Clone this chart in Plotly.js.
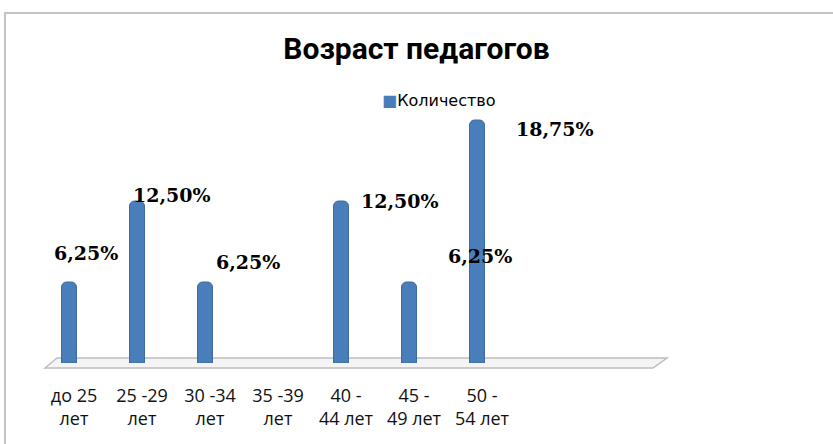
<!DOCTYPE html>
<html>
<head>
<meta charset="utf-8">
<script src="https://cdn.plot.ly/plotly-3.0.1.min.js"></script>
<style>html,body{margin:0;padding:0;background:#fff;}#chart{width:833px;height:444px;}</style>
</head>
<body>
<div id="chart"></div>
<script>
// ---- data ----
const categories = ["до 25<br>лет", "25 -29<br>лет", "30 -34<br>лет", "35 -39<br>лет", "40 -<br>44 лет", "45 -<br>49 лет", "50 -<br>54 лет", " ", "  "];
const counts = [1, 2, 1, 0, 2, 1, 3, null, null];
const percentLabels = ["6,25%", "12,50%", "6,25%", "", "12,50%", "6,25%", "18,75%", "", ""];
const seriesName = "Количество";
const chartTitle = "Возраст педагогов";

// ---- label placement (styling, pixel shifts) ----
const labelShiftX = [17, 35, 43, 0, 59, 71, 78, 0, 0];
const labelShiftY = [29, 6, 20, 0, 0, 26, -9, 0, 0];

const L = 35, T = 39, PW = 612, PH = 324;
const px2paperX = p => (p - L) / PW;
const py2paperY = p => (T + PH - p) / PH;

const trace = {
  type: 'bar',
  x: categories,
  y: counts,
  name: seriesName,
  width: 0.22,
  marker: {color: '#4a7ebb',
           line: {color: '#3b6aa3', width: counts.map(v => (v ? 1 : 0))},
           cornerradius: 5},
  showlegend: false,
  hoverinfo: 'skip'
};

const annotations = [];
categories.forEach((c, i) => {
  if (!percentLabels[i]) return;
  annotations.push({
    x: c, y: counts[i], xref: 'x', yref: 'y',
    text: percentLabels[i], showarrow: false,
    xanchor: 'center', yanchor: 'middle',
    xshift: labelShiftX[i], yshift: labelShiftY[i],
    font: {family: 'DejaVu Serif', size: 19, color: '#000', weight: 'bold'}
  });
});
annotations.push({
  xref: 'paper', yref: 'paper', x: px2paperX(380), y: py2paperY(101),
  xanchor: 'left', yanchor: 'middle', showarrow: false,
  text: "<span style='color:#4a7ebb'>■</span>" + seriesName,
  font: {family: 'DejaVu Sans', size: 16, color: '#000'}
});

const layout = {
  width: 833, height: 444,
  margin: {l: L, r: 833 - L - PW, t: T, b: 444 - T - PH},
  paper_bgcolor: '#fff', plot_bgcolor: 'rgba(0,0,0,0)',
  title: {text: '<b>' + chartTitle + '</b>', x: 0.5, xref: 'container', xanchor: 'center',
          y: 1 - 48 / 444, yref: 'container', yanchor: 'middle',
          font: {family: 'Roboto', size: 30, color: '#000'}},
  xaxis: {type: 'category', range: [-0.5, 8.5], showgrid: false, zeroline: false, showline: false,
          ticks: '', ticklabelstandoff: 20, ticklabelshift: 5,
          tickfont: {family: 'Open Sans', size: 18, color: '#111'}, fixedrange: true},
  yaxis: {range: [0, 4], visible: false, showgrid: false, zeroline: false, fixedrange: true},
  showlegend: false,
  annotations: annotations,
  shapes: [
    {type: 'rect', xref: 'paper', yref: 'paper', x0: px2paperX(5), x1: 3, y0: -3, y1: py2paperY(13),
     line: {color: '#c4c4c4', width: 2}, layer: 'below'},
    {type: 'path', xref: 'paper', yref: 'paper', layer: 'below',
     path: 'M ' + px2paperX(45) + ' ' + py2paperY(368) + ' L ' + px2paperX(57) + ' ' + py2paperY(358) +
           ' L ' + px2paperX(667) + ' ' + py2paperY(358) + ' L ' + px2paperX(653) + ' ' + py2paperY(368) + ' Z',
     line: {color: '#bdbdbd', width: 1.5}, fillcolor: '#f4f4f4'}
  ]
};

Plotly.newPlot('chart', [trace], layout, {staticPlot: true, displayModeBar: false});
</script>
</body>
</html>
